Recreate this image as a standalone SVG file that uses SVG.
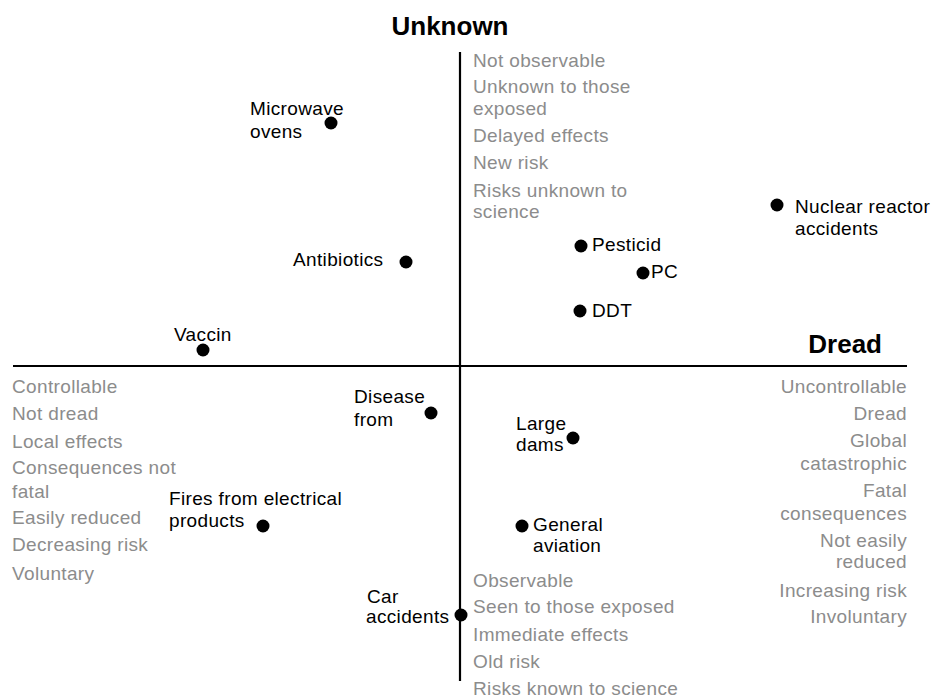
<svg xmlns="http://www.w3.org/2000/svg" width="932" height="699" viewBox="0 0 932 699">
<style>
text{font-family:"Liberation Sans",Arial,sans-serif;font-size:19px;letter-spacing:0.35px}
.g{fill:#8c8c8c}
.k{fill:#000}
.t{font-weight:bold;font-size:26px;letter-spacing:0;fill:#000}
.r{text-anchor:end}
.dot{fill:#000}
.ax{stroke:#000;stroke-width:2.2;fill:none}
</style>
<rect width="932" height="699" fill="#fff"/>
<g id="axes">
<line class="ax" x1="460" y1="52" x2="460" y2="681"/>
<line class="ax" x1="13" y1="366" x2="907" y2="366"/>
</g>
<g id="axis-titles">
<text class="t" x="450" y="35" text-anchor="middle">Unknown</text>
<text class="t r" x="882" y="353">Dread</text>
</g>
<g id="unknown-traits">
<text class="g" x="473" y="67">Not observable</text>
<text class="g" x="473" y="93">Unknown to those</text>
<text class="g" x="473" y="115">exposed</text>
<text class="g" x="473" y="142">Delayed effects</text>
<text class="g" x="473" y="169">New risk</text>
<text class="g" x="473" y="197">Risks unknown to</text>
<text class="g" x="473" y="218">science</text>
</g>
<g id="known-traits">
<text class="g" x="473" y="587">Observable</text>
<text class="g" x="473" y="613">Seen to those exposed</text>
<text class="g" x="473" y="641">Immediate effects</text>
<text class="g" x="473" y="668">Old risk</text>
<text class="g" x="473" y="695">Risks known to science</text>
</g>
<g id="not-dread-traits">
<text class="g" x="12" y="393">Controllable</text>
<text class="g" x="12" y="420">Not dread</text>
<text class="g" x="12" y="448">Local effects</text>
<text class="g" x="12" y="474">Consequences not</text>
<text class="g" x="12" y="498">fatal</text>
<text class="g" x="12" y="524">Easily reduced</text>
<text class="g" x="12" y="551">Decreasing risk</text>
<text class="g" x="12" y="580">Voluntary</text>
</g>
<g id="dread-traits">
<text class="g r" x="907" y="393">Uncontrollable</text>
<text class="g r" x="907" y="420">Dread</text>
<text class="g r" x="907" y="447">Global</text>
<text class="g r" x="907" y="470">catastrophic</text>
<text class="g r" x="907" y="497">Fatal</text>
<text class="g r" x="907" y="520">consequences</text>
<text class="g r" x="907" y="547">Not easily</text>
<text class="g r" x="907" y="568">reduced</text>
<text class="g r" x="907" y="597">Increasing risk</text>
<text class="g r" x="907" y="623">Involuntary</text>
</g>
<g id="microwave">
<circle class="dot" cx="331" cy="123" r="6.5"/>
<text class="k" x="250" y="115">Microwave</text>
<text class="k" x="250" y="138">ovens</text>
</g>
<g id="antibiotics">
<circle class="dot" cx="406" cy="262" r="6.5"/>
<text class="k" x="293" y="266">Antibiotics</text>
</g>
<g id="vaccin">
<circle class="dot" cx="203" cy="350" r="6.5"/>
<text class="k" x="174" y="341">Vaccin</text>
</g>
<g id="nuclear">
<circle class="dot" cx="777" cy="205" r="6.5"/>
<text class="k" x="795" y="213">Nuclear reactor</text>
<text class="k" x="795" y="235">accidents</text>
</g>
<g id="pesticid">
<circle class="dot" cx="581" cy="246" r="6.5"/>
<text class="k" x="592" y="251">Pesticid</text>
</g>
<g id="pc">
<circle class="dot" cx="643" cy="273" r="6.5"/>
<text class="k" x="651" y="278">PC</text>
</g>
<g id="ddt">
<circle class="dot" cx="580" cy="311" r="6.5"/>
<text class="k" x="592" y="317">DDT</text>
</g>
<g id="disease">
<circle class="dot" cx="431" cy="413" r="6.5"/>
<text class="k" x="354" y="403">Disease</text>
<text class="k" x="354" y="426">from</text>
</g>
<g id="dams">
<circle class="dot" cx="573" cy="438" r="6.5"/>
<text class="k" x="516" y="430">Large</text>
<text class="k" x="516" y="451">dams</text>
</g>
<g id="aviation">
<circle class="dot" cx="522" cy="526" r="6.5"/>
<text class="k" x="533" y="531">General</text>
<text class="k" x="533" y="552">aviation</text>
</g>
<g id="fires">
<circle class="dot" cx="263" cy="526" r="6.5"/>
<text class="k" x="169" y="505">Fires from electrical</text>
<text class="k" x="169" y="527">products</text>
</g>
<g id="car">
<circle class="dot" cx="461" cy="615" r="6.5"/>
<text class="k" x="367" y="603">Car</text>
<text class="k" x="366" y="623">accidents</text>
</g>
</svg>
